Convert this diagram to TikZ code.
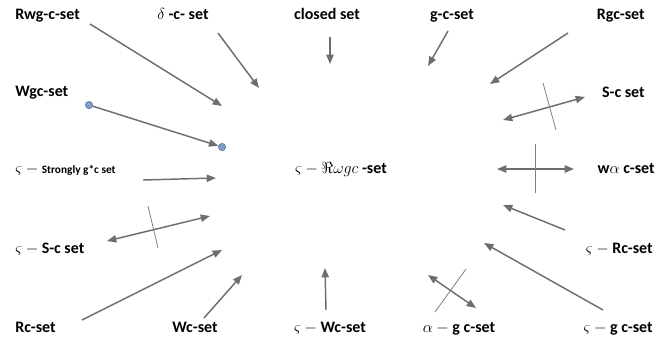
\documentclass[tikz,border=0pt]{standalone}
\usepackage{fontspec}
\setmainfont{Carlito}
\usetikzlibrary{arrows.meta}
\definecolor{arrowgray}{HTML}{6E6E6E}
\definecolor{crossgray}{HTML}{808080}
\definecolor{dotblue}{HTML}{819DC9}
\definecolor{dotedge}{HTML}{4F6D9A}
\newcommand{\zmin}{{\fontsize{13}{14}\selectfont$\varsigma - {}$}}
\begin{document}
\begin{tikzpicture}[x=0.75pt,y=-0.75pt,
  lbl/.style={font=\bfseries\fontsize{12}{14}\selectfont, inner sep=0pt},
  arr/.style={draw=arrowgray, line width=1.1pt, -{Triangle[length=7pt,width=5.5pt]}},
  darr/.style={draw=arrowgray, line width=1.1pt, {Triangle[length=7pt,width=5.5pt]}-{Triangle[length=7pt,width=5.5pt]}},
  crossline/.style={draw=crossgray, line width=0.6pt},
  dotnode/.style={circle, fill=dotblue, draw=dotedge, line width=0.4pt, inner sep=0pt, minimum size=5.5pt}]
\useasboundingbox (0,0) rectangle (666,343);
% labels
\node[lbl, anchor=base west] (rwg) at (15,19) {Rwg-c-set};
\node[lbl, anchor=base] (delta) at (183,19) {{\fontsize{13}{14}\selectfont$\delta$} -c- set};
\node[lbl, anchor=base] (closed) at (327,19) {closed set};
\node[lbl, anchor=base] (gc) at (452,19) {g-c-set};
\node[lbl, anchor=base east] (rgc) at (645,19) {Rgc-set};
\node[lbl, anchor=base west] (wgc) at (15,96) {Wgc-set};
\node[lbl, anchor=base east] (sc) at (645,97) {S-c set};
\node[lbl, anchor=base west] (strong) at (15,173) {\zmin{\fontsize{8.5}{10}\selectfont Strongly g*c set}};
\node[lbl, anchor=base] (center) at (341,173) {{\mdseries\fontsize{13}{14}\selectfont$\varsigma - \Re\omega gc$} \bfseries -set};
\node[lbl, anchor=base east] (walpha) at (655,173) {w{\fontsize{13}{14}\selectfont$\alpha$} c-set};
\node[lbl, anchor=base west] (zsc) at (15,253) {\zmin S-c set};
\node[lbl, anchor=base east] (zrc) at (653,253) {\zmin Rc-set};
\node[lbl, anchor=base west] (rc) at (15,332) {Rc-set};
\node[lbl, anchor=base] (wc) at (195,332) {Wc-set};
\node[lbl, anchor=base] (zwc) at (330,332) {\zmin Wc-set};
\node[lbl, anchor=base] (agc) at (459,332) {{\fontsize{13}{14}\selectfont$\alpha - {}$}g c-set};
\node[lbl, anchor=base east] (zgc) at (653,332) {\zmin g c-set};
% endpoints
\coordinate (rwgS) at (90,24);   \coordinate (rwgE) at (222,106);
\coordinate (delS) at (218,33);  \coordinate (delE) at (259,88);
\coordinate (clS) at (330,37);   \coordinate (clE) at (330,64);
\coordinate (gcS) at (448,31);   \coordinate (gcE) at (428,66);
\coordinate (rgcS) at (568,33);  \coordinate (rgcE) at (490,84);
\coordinate (scA) at (503,120);  \coordinate (scB) at (585,97);
\coordinate (scX1) at (543,83);  \coordinate (scX2) at (556,130);
\node[dotnode] (wgcD1) at (89,105) {};
\node[dotnode] (wgcD2) at (222,147) {};
\coordinate (stS) at (143,180);  \coordinate (stE) at (216,178);
\coordinate (zscA) at (107,241); \coordinate (zscB) at (210,216);
\coordinate (zscX1) at (148,206); \coordinate (zscX2) at (158,248);
\coordinate (rcS) at (82,320);   \coordinate (rcE) at (222,250);
\coordinate (wcS) at (204,318);  \coordinate (wcE) at (242,275);
\coordinate (zwcS) at (326,310); \coordinate (zwcE) at (325,268);
\coordinate (agcA) at (428,275); \coordinate (agcB) at (476,308);
\coordinate (agcX1) at (466,269); \coordinate (agcX2) at (435,312);
\coordinate (zgcS) at (603,310); \coordinate (zgcE) at (484,243);
\coordinate (zrcS) at (565,230); \coordinate (zrcE) at (503,205);
\coordinate (waA) at (497,169);  \coordinate (waB) at (574,169);
\coordinate (waX1) at (535,144); \coordinate (waX2) at (535,193);
% connectors
\draw[arr] (rwgS) -- (rwgE);
\draw[arr] (delS) -- (delE);
\draw[arr] (clS) -- (clE);
\draw[arr] (gcS) -- (gcE);
\draw[arr] (rgcS) -- (rgcE);
\draw[darr] (scA) -- (scB);
\draw[crossline] (scX1) -- (scX2);
\draw[arr] (wgcD1) -- (wgcD2);
\draw[arr] (stS) -- (stE);
\draw[darr] (zscA) -- (zscB);
\draw[crossline] (zscX1) -- (zscX2);
\draw[arr] (rcS) -- (rcE);
\draw[arr] (wcS) -- (wcE);
\draw[arr] (zwcS) -- (zwcE);
\draw[darr] (agcA) -- (agcB);
\draw[crossline] (agcX1) -- (agcX2);
\draw[arr] (zgcS) -- (zgcE);
\draw[arr] (zrcS) -- (zrcE);
\draw[darr] (waA) -- (waB);
\draw[crossline] (waX1) -- (waX2);
\end{tikzpicture}
\end{document}
